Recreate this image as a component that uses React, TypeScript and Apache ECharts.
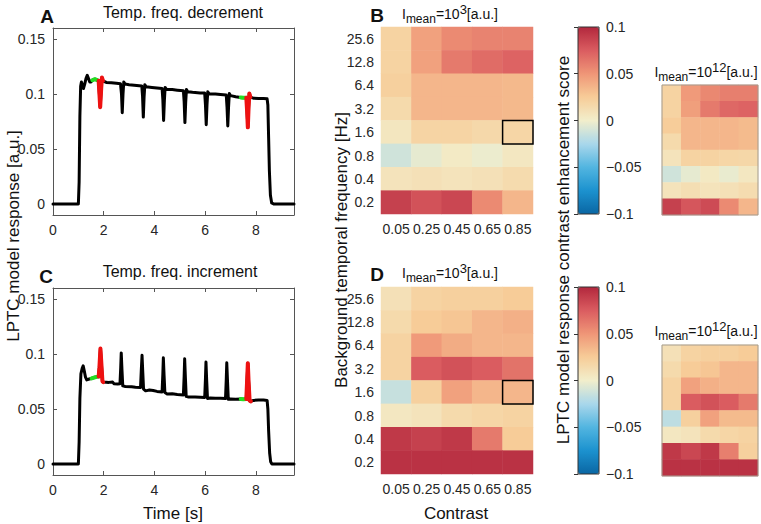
import React, { useEffect, useRef } from 'react';
import * as echarts from 'echarts';

const FONT = '"Liberation Sans", Arial, Helvetica, sans-serif';
const TXT = '#262626';
const AX = '#555555';

// ---------- data ----------
const timeTicks = [0, 2, 4, 6, 8];
const respTicks = [0, 0.05, 0.1, 0.15];
const contrasts = ['0.05', '0.25', '0.45', '0.65', '0.85'];
const freqs = ['0.2', '0.4', '0.8', '1.6', '3.2', '6.4', '12.8', '25.6']; // bottom -> top
const highlightCell = [['0.85', '1.6']];

// Temp. freq. decrement (panel A)
const decBlack = [
  [0, 0], [0.5, 0], [1.0, 0], [1.03, 0.02], [1.06, 0.08], [1.09, 0.107], [1.12, 0.111], [1.16, 0.108], [1.2, 0.105],
  [1.25, 0.109], [1.3, 0.114], [1.35, 0.117], [1.4, 0.114], [1.45, 0.111], [1.5, 0.111], [1.55, 0.1125],
  [1.65, 0.1135], [1.75, 0.1125], [1.8, 0.112], [1.83, 0.1], [1.86, 0.088], [1.9, 0.105], [1.93, 0.115], [1.97, 0.112],
  [2.1, 0.1105], [2.3, 0.1103], [2.5, 0.1098], [2.66, 0.1093],
  [2.7, 0.1], [2.73, 0.083], [2.76, 0.1], [2.79, 0.111], [2.84, 0.109], [3.0, 0.1085], [3.2, 0.108], [3.4, 0.1075], [3.5, 0.1073],
  [3.53, 0.098], [3.56, 0.079], [3.59, 0.097], [3.62, 0.1085], [3.67, 0.1065], [3.9, 0.106], [4.1, 0.1055], [4.3, 0.105],
  [4.33, 0.095], [4.36, 0.076], [4.39, 0.094], [4.42, 0.106], [4.47, 0.1043], [4.7, 0.104], [4.9, 0.1035], [5.14, 0.103],
  [5.17, 0.093], [5.2, 0.074], [5.23, 0.092], [5.26, 0.104], [5.31, 0.102], [5.5, 0.1015], [5.8, 0.101], [5.98, 0.1008],
  [6.01, 0.09], [6.04, 0.072], [6.07, 0.09], [6.1, 0.102], [6.15, 0.1003], [6.4, 0.1], [6.6, 0.0995], [6.83, 0.099],
  [6.86, 0.088], [6.89, 0.071], [6.92, 0.088], [6.95, 0.1005], [7.0, 0.0985], [7.2, 0.0975], [7.4, 0.0968], [7.5, 0.0965], [7.62, 0.0967],
  [7.65, 0.085], [7.68, 0.0697], [7.71, 0.088], [7.74, 0.1005], [7.78, 0.097], [7.9, 0.0962], [8.1, 0.096], [8.3, 0.0958], [8.44, 0.0956],
  [8.47, 0.09], [8.5, 0.06], [8.53, 0.03], [8.57, 0.008], [8.62, 0.001], [8.7, 0], [9.5, 0],
];
const decGreen1 = [[1.55, 0.1125], [1.65, 0.1135], [1.75, 0.1125], [1.8, 0.112]];
const decRed1 = [[1.8, 0.112], [1.83, 0.1], [1.86, 0.088], [1.9, 0.105], [1.93, 0.115], [1.97, 0.112]];
const decGreen2 = [[7.4, 0.0968], [7.5, 0.0965], [7.62, 0.0967]];
const decRed2 = [[7.62, 0.0967], [7.65, 0.085], [7.68, 0.0697], [7.71, 0.088], [7.74, 0.1005], [7.78, 0.097]];

// Temp. freq. increment (panel C)
const incBlack = [
  [0, 0], [0.5, 0], [1.0, 0], [1.03, 0.02], [1.06, 0.06], [1.1, 0.082], [1.15, 0.087], [1.19, 0.0893], [1.23, 0.085],
  [1.28, 0.079], [1.33, 0.0765], [1.4, 0.077], [1.47, 0.0775], [1.52, 0.0778], [1.62, 0.0786], [1.72, 0.0792], [1.8, 0.0795],
  [1.83, 0.088], [1.87, 0.105], [1.91, 0.09], [1.95, 0.075], [2.0, 0.0745], [2.2, 0.0742], [2.35, 0.0745], [2.4, 0.073], [2.55, 0.0728], [2.64, 0.073],
  [2.67, 0.088], [2.69, 0.101], [2.72, 0.085], [2.75, 0.071], [2.85, 0.0705], [3.1, 0.0702], [3.25, 0.0698], [3.45, 0.0695],
  [3.48, 0.085], [3.51, 0.0988], [3.54, 0.083], [3.57, 0.068], [3.65, 0.0665], [3.8, 0.0672], [3.95, 0.0668], [4.1, 0.066], [4.3, 0.0655],
  [4.33, 0.082], [4.35, 0.0966], [4.38, 0.08], [4.41, 0.065], [4.5, 0.0637], [4.7, 0.0638], [4.9, 0.0632], [5.14, 0.0628],
  [5.17, 0.08], [5.19, 0.0957], [5.22, 0.078], [5.25, 0.0615], [5.35, 0.0608], [5.6, 0.061], [5.8, 0.0607], [5.98, 0.0605],
  [6.01, 0.078], [6.03, 0.0927], [6.06, 0.075], [6.09, 0.0595], [6.2, 0.06], [6.4, 0.0598], [6.6, 0.0598], [6.8, 0.0595],
  [6.83, 0.077], [6.85, 0.092], [6.88, 0.075], [6.91, 0.0588], [7.0, 0.059], [7.2, 0.0588], [7.4, 0.059], [7.5, 0.0588], [7.62, 0.059],
  [7.65, 0.075], [7.68, 0.0915], [7.71, 0.075], [7.75, 0.0575], [7.8, 0.057], [7.9, 0.0578], [8.1, 0.0582], [8.3, 0.0582], [8.44, 0.0578],
  [8.47, 0.05], [8.5, 0.03], [8.54, 0.01], [8.58, 0.002], [8.63, 0], [9.5, 0],
];
const incGreen1 = [[1.52, 0.0778], [1.62, 0.0786], [1.72, 0.0792], [1.8, 0.0795]];
const incRed1 = [[1.8, 0.0795], [1.83, 0.088], [1.87, 0.105], [1.91, 0.09], [1.95, 0.075], [1.98, 0.0745]];
const incGreen2 = [[7.4, 0.059], [7.5, 0.0588], [7.62, 0.059]];
const incRed2 = [[7.62, 0.059], [7.65, 0.075], [7.68, 0.0915], [7.71, 0.075], [7.75, 0.0575], [7.8, 0.057]];

// Contrast enhancement scores, rows listed top (25.6 Hz) -> bottom (0.2 Hz), columns by contrast
const scoreDecLow = [
  [0.020, 0.045, 0.055, 0.058, 0.058],
  [0.020, 0.045, 0.062, 0.068, 0.072],
  [0.022, 0.035, 0.035, 0.035, 0.034],
  [0.015, 0.035, 0.035, 0.035, 0.034],
  [0.006, 0.019, 0.019, 0.016, 0.018],
  [-0.012, -0.004, 0.003, -0.002, 0.005],
  [0.008, 0.010, 0.008, 0.010, 0.014],
  [0.088, 0.080, 0.085, 0.055, 0.035],
];
const scoreDecHigh = [
  [0.020, 0.048, 0.056, 0.060, 0.060],
  [0.020, 0.046, 0.062, 0.070, 0.072],
  [0.024, 0.035, 0.035, 0.035, 0.033],
  [0.015, 0.035, 0.035, 0.035, 0.033],
  [0.008, 0.020, 0.020, 0.018, 0.017],
  [-0.012, -0.004, 0.004, -0.003, 0.005],
  [0.008, 0.012, 0.008, 0.010, 0.013],
  [0.088, 0.078, 0.083, 0.055, 0.035],
];
const scoreIncLow = [
  [0.010, 0.020, 0.022, 0.022, 0.025],
  [0.015, 0.025, 0.028, 0.035, 0.038],
  [0.020, 0.048, 0.040, 0.035, 0.035],
  [0.020, 0.075, 0.080, 0.075, 0.065],
  [-0.015, 0.022, 0.045, 0.035, 0.035],
  [0.005, 0.008, 0.015, 0.018, 0.020],
  [0.092, 0.088, 0.092, 0.062, 0.025],
  [0.095, 0.095, 0.095, 0.095, 0.095],
];
const scoreIncHigh = [
  [0.010, 0.020, 0.022, 0.022, 0.025],
  [0.015, 0.025, 0.028, 0.035, 0.035],
  [0.020, 0.045, 0.038, 0.035, 0.035],
  [0.020, 0.075, 0.080, 0.075, 0.062],
  [-0.018, 0.022, 0.045, 0.033, 0.033],
  [0.005, 0.008, 0.015, 0.018, 0.020],
  [0.092, 0.085, 0.092, 0.060, 0.022],
  [0.095, 0.095, 0.095, 0.095, 0.095],
];
const cmap = ['#0a66a3', '#1c92cf', '#52b5e0', '#a9d7eb', '#f2eecb', '#f7cc98', '#ef9677', '#da5c60', '#b2283d'];

// ---------- helpers ----------
const toCells = (rows: number[][]) => {
  const out: any[] = [];
  rows.forEach((row, r) => row.forEach((v, c) => out.push([contrasts[c], freqs[freqs.length - 1 - r], v])));
  return out;
};

const lineX = (g: number, pos: 'bottom' | 'top') => ({
  type: 'value', gridIndex: g, position: pos, min: 0, max: 9.5,
  axisLine: { show: true, onZero: false, lineStyle: { color: AX, width: 1 } },
  axisTick: { show: true, inside: true, length: 4, lineStyle: { color: AX }, customValues: timeTicks },
  axisLabel: { show: pos === 'bottom', fontSize: 14, color: TXT, fontFamily: FONT, margin: 8, customValues: timeTicks },
  splitLine: { show: false },
});
const lineY = (g: number, pos: 'left' | 'right') => ({
  type: 'value', gridIndex: g, position: pos, min: -0.01, max: 0.16,
  axisLine: { show: true, onZero: false, lineStyle: { color: AX, width: 1 } },
  axisTick: { show: true, inside: true, length: 4, lineStyle: { color: AX }, customValues: respTicks },
  axisLabel: { show: pos === 'left', fontSize: 14, color: TXT, fontFamily: FONT, margin: 8, customValues: respTicks },
  splitLine: { show: false },
});
const hmX = (g: number, pos: 'bottom' | 'top', labels: boolean) => ({
  type: 'category', gridIndex: g, position: pos, data: contrasts,
  axisLine: { show: false },
  axisTick: { show: true, inside: true, length: 3, alignWithLabel: true, interval: 0, lineStyle: { color: '#333' } },
  axisLabel: { show: labels, interval: 0, fontSize: 14, color: TXT, fontFamily: FONT, margin: 8 },
  splitLine: { show: false },
});
const hmY = (g: number, labels: boolean) => ({
  type: 'category', gridIndex: g, position: 'left', data: freqs,
  axisLine: { show: false },
  axisTick: { show: true, inside: true, length: 3, alignWithLabel: true, interval: 0, lineStyle: { color: '#333' } },
  axisLabel: { show: labels, interval: 0, fontSize: 14, color: TXT, fontFamily: FONT, margin: 7 },
  splitLine: { show: false },
});
const cbX = (g: number) => ({ type: 'value', gridIndex: g, min: 0, max: 1, show: false });
const cbY = (g: number) => ({
  type: 'value', gridIndex: g, position: 'right', min: -0.1, max: 0.1, interval: 0.05,
  axisLine: { show: false },
  axisTick: { show: true, inside: true, length: 4, lineStyle: { color: '#333' } },
  axisLabel: {
    fontSize: 14, color: TXT, fontFamily: FONT, margin: 7,
    formatter: (v: number) => (v < 0 ? '\u2212' + String(Math.abs(v)) : String(v)),
  },
  splitLine: { show: false },
});

const lineSeries = (data: number[][], xi: number, yi: number, color: string, width: number, z: number) => ({
  type: 'line', xAxisIndex: xi, yAxisIndex: yi, data, showSymbol: false, symbol: 'none', silent: true, z,
  lineStyle: { color, width, join: 'round', cap: 'round' },
});
const heat = (rows: number[][], idx: number) => ({
  type: 'heatmap', xAxisIndex: idx, yAxisIndex: idx, data: toCells(rows), silent: true,
  itemStyle: { borderWidth: 0 }, emphasis: { disabled: true },
});
const box = (idx: number) => ({
  type: 'custom', xAxisIndex: idx, yAxisIndex: idx, data: highlightCell, silent: true, z: 20,
  renderItem: (_p: any, api: any) => {
    const c = api.coord([api.value(0), api.value(1)]);
    const s = api.size([1, 1]);
    return {
      type: 'rect',
      shape: { x: c[0] - s[0] / 2, y: c[1] - s[1] / 2, width: s[0], height: s[1] },
      style: { fill: 'none', stroke: '#000', lineWidth: 1.5 },
    };
  },
});

const txt = (text: string, x: number, y: number, size: number, extra: any = {}) => ({
  type: 'text', x, y, rotation: extra.rotation || 0, silent: true,
  style: {
    text, fill: '#111', fontSize: size, fontFamily: FONT, fontWeight: extra.bold ? 'bold' : 'normal',
    align: 'center', verticalAlign: 'middle', textAlign: 'center', textVerticalAlign: 'middle',
  },
});
const imean = (exp: string, x: number, y: number) => ({
  type: 'text', x, y, silent: true,
  style: {
    text: `{i|I}{s|mean}{t|=10}{p|${exp}}{t|[a.u.]}`,
    fill: '#111', fontFamily: FONT, fontSize: 14,
    align: 'center', verticalAlign: 'middle', textAlign: 'center', textVerticalAlign: 'middle',
    rich: {
      i: { fontSize: 14, fontFamily: FONT, fill: '#111', lineHeight: 22, verticalAlign: 'middle' },
      s: { fontSize: 12, fontFamily: FONT, fill: '#111', lineHeight: 12, verticalAlign: 'bottom' },
      t: { fontSize: 14, fontFamily: FONT, fill: '#111', lineHeight: 22, verticalAlign: 'middle' },
      p: { fontSize: 13, fontFamily: FONT, fill: '#111', lineHeight: 13, verticalAlign: 'top' },
    },
  },
});

function buildOption() {
  return {
    animation: false,
    backgroundColor: '#ffffff',
    grid: [
      { left: 53, top: 28, width: 241, height: 187 },
      { left: 53, top: 288, width: 241, height: 187 },
      { left: 381, top: 27, width: 152, height: 187 },
      { left: 381, top: 287, width: 152, height: 187 },
      { left: 662, top: 85, width: 96, height: 130, show: true, z: 10, borderColor: '#a39c90', borderWidth: 1, backgroundColor: 'transparent' },
      { left: 662, top: 345, width: 96, height: 131, show: true, z: 10, borderColor: '#a39c90', borderWidth: 1, backgroundColor: 'transparent' },
      { left: 578, top: 27, width: 21, height: 187, show: true, z: 10, borderColor: '#333', borderWidth: 1, backgroundColor: 'transparent' },
      { left: 578, top: 287, width: 21, height: 187, show: true, z: 10, borderColor: '#333', borderWidth: 1, backgroundColor: 'transparent' },
    ],
    xAxis: [
      lineX(0, 'bottom'), lineX(0, 'top'), lineX(1, 'bottom'), lineX(1, 'top'),
      hmX(2, 'bottom', true), hmX(3, 'bottom', true), hmX(4, 'bottom', false), hmX(5, 'bottom', false),
      cbX(6), cbX(7),
      hmX(2, 'top', false), hmX(3, 'top', false), hmX(4, 'top', false), hmX(5, 'top', false),
    ],
    yAxis: [
      lineY(0, 'left'), lineY(0, 'right'), lineY(1, 'left'), lineY(1, 'right'),
      hmY(2, true), hmY(3, true), hmY(4, false), hmY(5, false),
      cbY(6), cbY(7),
    ],
    visualMap: [
      {
        type: 'continuous', min: -0.1, max: 0.1, seriesIndex: [10, 12], dimension: 2,
        left: 578, top: 27, itemWidth: 21, itemHeight: 187, padding: 0, calculable: false, hoverLink: false,
        inRange: { color: cmap }, textStyle: { color: 'transparent' },
      },
      {
        type: 'continuous', min: -0.1, max: 0.1, seriesIndex: [11, 13], dimension: 2,
        left: 578, top: 287, itemWidth: 21, itemHeight: 187, padding: 0, calculable: false, hoverLink: false,
        inRange: { color: cmap }, textStyle: { color: 'transparent' },
      },
    ],
    series: [
      lineSeries(decBlack, 0, 0, '#000', 3, 2),
      lineSeries(decGreen1, 0, 0, '#22dd22', 4, 3),
      lineSeries(decRed1, 0, 0, '#ee1111', 4, 3),
      lineSeries(decGreen2, 0, 0, '#22dd22', 4, 3),
      lineSeries(decRed2, 0, 0, '#ee1111', 4, 3),
      lineSeries(incBlack, 2, 2, '#000', 3, 2),
      lineSeries(incGreen1, 2, 2, '#22dd22', 4, 3),
      lineSeries(incRed1, 2, 2, '#ee1111', 4, 3),
      lineSeries(incGreen2, 2, 2, '#22dd22', 4, 3),
      lineSeries(incRed2, 2, 2, '#ee1111', 4, 3),
      heat(scoreDecLow, 4),   // 10
      heat(scoreIncLow, 5),   // 11
      heat(scoreDecHigh, 6),  // 12
      heat(scoreIncHigh, 7),  // 13
      box(4),
      box(5),
    ],
    graphic: [
      txt('A', 47, 16, 19, { bold: true }),
      txt('B', 377, 15, 19, { bold: true }),
      txt('C', 46, 276, 19, { bold: true }),
      txt('D', 377, 274, 19, { bold: true }),
      txt('Temp. freq. decrement', 183, 12, 16),
      txt('Temp. freq. increment', 180, 271, 16),
      imean('3', 450, 14),
      imean('3', 450, 273),
      imean('12', 706, 72),
      imean('12', 706, 331),
      txt('Time [s]', 173, 513, 17),
      txt('Contrast', 456, 513, 17),
      txt('LPTC model response [a.u.]', 13, 236, 17, { rotation: Math.PI / 2 }),
      txt('Background temporal frequency [Hz]', 341, 250, 17, { rotation: Math.PI / 2 }),
      txt('LPTC model response contrast enhancement score', 563, 250, 17, { rotation: Math.PI / 2 }),
    ],
  };
}

export default function App() {
  const ref = useRef<HTMLDivElement>(null);
  useEffect(() => {
    const chart = echarts.init(ref.current as HTMLDivElement, null, { renderer: 'svg' });
    chart.setOption(buildOption() as any);
    return () => chart.dispose();
  }, []);
  return (
    <div
      ref={ref}
      style={{ position: 'fixed', left: 0, top: 0, width: 761, height: 524, background: '#fff' }}
    />
  );
}
